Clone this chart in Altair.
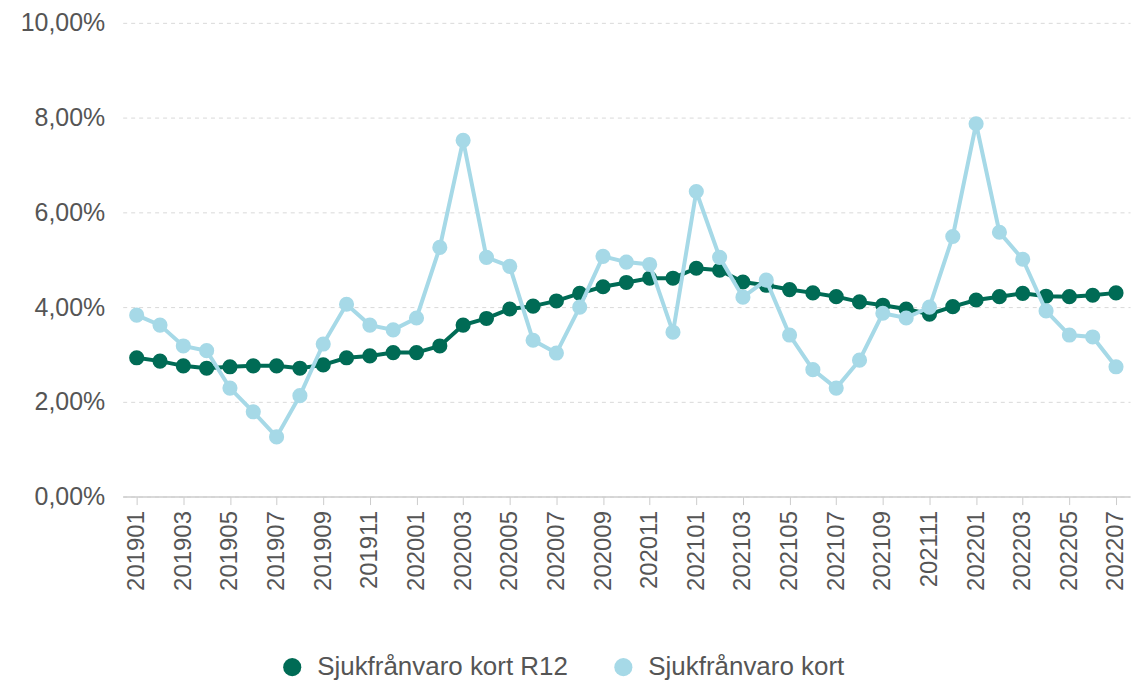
import altair as alt
import pandas as pd

months = [f"{y}{m:02d}" for y in (2019, 2020, 2021, 2022) for m in range(1, 13)][:43]

r12 = [2.93, 2.86, 2.76, 2.71, 2.74, 2.76, 2.76, 2.71, 2.78, 2.93, 2.97, 3.04, 3.04,
       3.18, 3.62, 3.76, 3.96, 4.02, 4.13, 4.29, 4.43, 4.52, 4.61, 4.61, 4.82, 4.78,
       4.53, 4.46, 4.37, 4.30, 4.22, 4.11, 4.04, 3.96, 3.85, 4.01, 4.15, 4.22, 4.29,
       4.23, 4.22, 4.25, 4.30]
kort = [3.83, 3.62, 3.18, 3.08, 2.29, 1.79, 1.26, 2.13, 3.22, 4.06, 3.62, 3.52, 3.77,
        5.26, 7.52, 5.05, 4.86, 3.30, 3.03, 4.00, 5.07, 4.95, 4.90, 3.47, 6.44, 5.05,
        4.21, 4.57, 3.41, 2.68, 2.29, 2.88, 3.87, 3.77, 4.00, 5.49, 7.87, 5.58, 5.01,
        3.92, 3.41, 3.37, 2.74]

series_names = ["Sjukfrånvaro kort R12", "Sjukfrånvaro kort"]
colors = ["#006b55", "#a6d9e7"]
tick_labels = months[::2]
y_ticks = [0, 2, 4, 6, 8, 10]

df = pd.concat([
    pd.DataFrame({"month": months, "value": r12, "series": series_names[0]}),
    pd.DataFrame({"month": months, "value": kort, "series": series_names[1]}),
])

FONT = "Liberation Sans"

x = alt.X("month:O", title=None,
          scale=alt.Scale(type="point", padding=0.6),
          axis=alt.Axis(values=tick_labels, labelAngle=-90, labelFontSize=24,
                        labelColor="#555555", labelFont=FONT, labelPadding=6,
                        tickSize=8, tickColor="#cccccc", domainColor="#cccccc",
                        domainWidth=1.5, grid=False,
                        labelBaseline="middle", labelAlign="right"))
y = alt.Y("value:Q", title=None,
          scale=alt.Scale(domain=[0, 10]),
          axis=alt.Axis(values=y_ticks, domain=False, ticks=False,
                        labelFontSize=25, labelColor="#555555", labelFont=FONT,
                        labelPadding=18,
                        labelExpr="replace(format(datum.value, '.2f'), '.', ',') + '%'",
                        gridDash=[4, 4], gridColor="#d9d9d9"))
color = alt.Color("series:N", title=None,
                  scale=alt.Scale(domain=series_names, range=colors),
                  legend=alt.Legend(orient="none", direction="horizontal",
                                    legendX=157, legendY=633,
                                    symbolType="circle", symbolSize=330,
                                    labelFontSize=26, labelColor="#555555",
                                    labelFont=FONT, columnPadding=42,
                                    labelLimit=0, labelOffset=12,
                                    symbolStrokeWidth=0))

layers = []
for name in series_names:
    sub = df[df.series == name]
    layers.append(alt.Chart(sub).mark_line(strokeWidth=4).encode(x=x, y=y, color=color))
    layers.append(alt.Chart(sub).mark_circle(size=230, opacity=1).encode(x=x, y=y, color=color))

chart = alt.layer(*layers).properties(
    width=1010, height=475,
    autosize=alt.AutoSizeParams(type="none"),
    padding={"left": 115, "top": 14, "right": 2, "bottom": 184},
).configure_view(stroke=None)

chart.save("out.html", embed_options={"renderer": "svg", "actions": False})
